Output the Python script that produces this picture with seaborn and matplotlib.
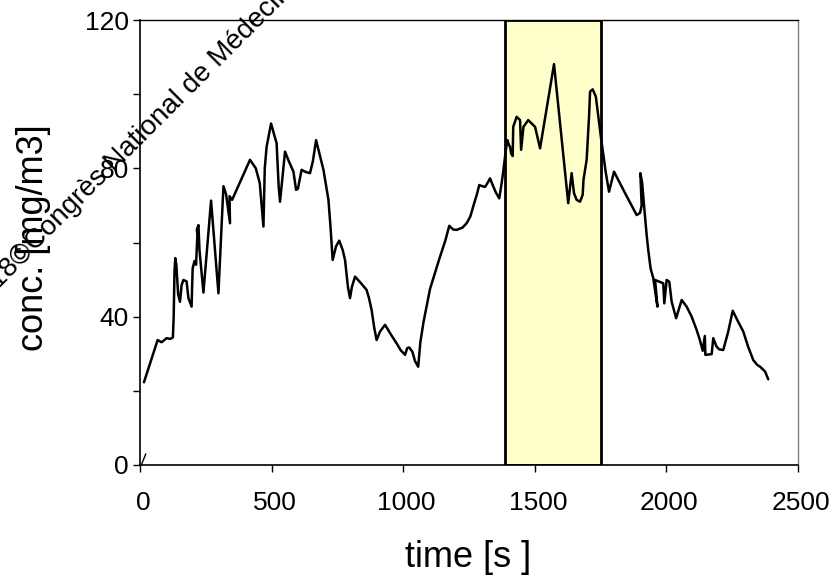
import matplotlib
matplotlib.use("Agg")
import matplotlib.pyplot as plt
import seaborn as sns
import pandas as pd
from matplotlib.ticker import FixedLocator, FixedFormatter
import matplotlib.transforms as mtransforms

# ---- data ----
time_s = [15, 67, 82, 101, 115, 125, 128, 131, 134, 138, 145, 152, 158, 165, 177, 184, 196,
          200, 207, 213, 218, 216, 222, 226, 241, 270, 298, 317, 327, 342, 340, 350,
          418, 440, 455, 469, 474, 481, 498, 510, 519, 527, 532,
          551, 565, 583, 593, 600, 614, 630, 646, 657, 669, 685, 697, 716, 724, 732,
          745, 757, 770, 779, 790, 798, 805, 817, 840, 861, 870, 880, 890, 899, 912,
          931, 955, 975, 990, 1007, 1015, 1023, 1035, 1045, 1057, 1065, 1077, 1102,
          1140, 1160, 1175, 1190, 1203, 1225, 1241, 1255, 1266, 1280, 1289, 1300,
          1311, 1320, 1330, 1340, 1352, 1365, 1374, 1381, 1390, 1396, 1401, 1406,
          1410, 1416, 1418, 1431, 1444, 1448, 1457, 1475, 1501, 1520, 1573, 1627,
          1640, 1649, 1659, 1672, 1682, 1685, 1697, 1706, 1710, 1720, 1732, 1751,
          1770, 1782, 1801, 1827, 1843, 1887, 1900, 1906, 1901, 1908, 1915, 1925,
          1931, 1940, 1950, 1966, 1957, 1988, 1992, 2001, 2011, 2020, 2037, 2058,
          2077, 2096, 2115, 2128, 2138, 2146, 2148, 2160, 2172, 2178, 2190, 2200,
          2216, 2235, 2252, 2270, 2292, 2310, 2330, 2345, 2356, 2375, 2387]
conc = [22.3, 33.7, 33.1, 34.2, 34.0, 34.4, 40.0, 52.0, 55.8, 54.0, 46.0, 44.0, 48.5, 49.9, 49.5, 45.0, 42.7,
        53.0, 55.0, 54.0, 62.0, 63.5, 64.7, 58.0, 46.5, 71.3, 46.3, 75.2, 73.0, 65.2, 72.5, 71.5,
        82.3, 80.0, 76.0, 64.3, 80.0, 85.8, 92.1, 89.0, 86.8, 75.0, 71.0,
        84.5, 82.0, 79.1, 74.2, 74.5, 79.6, 79.0, 78.7, 82.0, 87.6, 83.0, 79.6, 71.5, 64.0, 55.3,
        59.0, 60.5, 58.0, 55.3, 48.0, 45.0, 48.0, 50.8, 49.0, 47.2, 45.0, 41.8, 37.0, 33.7, 36.0,
        37.8, 35.0, 32.8, 31.0, 29.7, 31.5, 31.7, 30.5, 28.0, 26.5, 33.0, 38.5, 47.5,
        56.2, 60.5, 64.5, 63.5, 63.4, 64.0, 65.2, 67.0, 69.7, 73.0, 75.5, 75.2,
        75.0, 76.0, 77.3, 75.5, 73.5, 71.9, 76.0, 79.6, 85.0, 87.6, 86.4, 85.8,
        84.0, 83.3, 91.2, 93.9, 93.0, 85.0, 91.2, 93.0, 91.2, 85.4, 108.1, 70.6,
        78.7, 73.3, 71.5, 71.0, 72.9, 76.9, 82.3, 93.9, 100.7, 101.3, 99.3, 88.5,
        78.7, 73.7, 79.1, 75.5, 73.3, 67.4, 68.0, 70.0, 78.7, 76.0, 70.0, 62.0,
        58.0, 53.0, 50.4, 42.7, 49.9, 49.0, 43.6, 49.9, 49.4, 44.0, 39.6, 44.5,
        42.7, 40.0, 36.4, 33.5, 30.8, 34.8, 29.7, 29.8, 29.9, 34.2, 32.0, 31.2,
        31.0, 36.0, 41.6, 39.0, 36.0, 32.0, 28.3, 27.0, 26.5, 25.2, 23.1]
stub_time = [5, 22]
stub_conc = [0.0, 3.0]
highlight_start = 1385
highlight_end = 1752
x_ticks = [0, 500, 1000, 1500, 2000, 2500]
x_labels = ["0", "500", "1000", "1500", "2000", "2500"]
y_ticks = [0, 20, 40, 60, 80, 100, 120]
y_labels = ["0", "", "40", "", "80", "", "120"]

sns.set_theme(style="white")
plt.rcParams['font.family'] = ['Liberation Sans', 'DejaVu Sans']
plt.rcParams['text.color'] = 'black'
plt.rcParams['axes.labelcolor'] = 'black'
plt.rcParams['xtick.color'] = 'black'
plt.rcParams['ytick.color'] = 'black'

fig = plt.figure(figsize=(8.36, 5.76), dpi=100)
ax = fig.add_axes([140/836, 111/576, 658/836, 445/576])

ax.axvspan(highlight_start, highlight_end, facecolor='#FFFFCC', edgecolor='black',
           linewidth=2.0, zorder=1)

df = pd.DataFrame({"time": time_s, "conc": conc})
sns.lineplot(data=df, x="time", y="conc", sort=False, estimator=None,
             color="black", linewidth=1.8, ax=ax, zorder=3)
df2 = pd.DataFrame({"time": stub_time, "conc": stub_conc})
sns.lineplot(data=df2, x="time", y="conc", sort=False, estimator=None,
             color="black", linewidth=1.0, ax=ax, zorder=3)

ax.set_xlim(0, 2500)
ax.set_ylim(0, 120)
ax.xaxis.set_major_locator(FixedLocator(x_ticks))
ax.xaxis.set_major_formatter(FixedFormatter(x_labels))
ax.yaxis.set_major_locator(FixedLocator(y_ticks))
ax.yaxis.set_major_formatter(FixedFormatter(y_labels))
ax.tick_params(axis='both', which='major', direction='out', length=5, width=1,
               color='black', labelcolor='black', labelsize=19,
               bottom=True, left=True, top=False, right=False)
ax.tick_params(axis='x', pad=14)
ax.tick_params(axis='y', pad=3)
# reference x tick labels sit slightly right of their ticks
offset = mtransforms.ScaledTranslation(3/100, 0, fig.dpi_scale_trans)
for lbl in ax.get_xticklabels():
    lbl.set_transform(lbl.get_transform() + offset)

ax.set_xlabel("")
ax.set_ylabel("")
for s in ['left', 'bottom', 'top']:
    ax.spines[s].set_color('black')
    ax.spines[s].set_linewidth(1.2)
ax.spines['top'].set_linewidth(1.0)
ax.spines['right'].set_color('#808080')
ax.spines['right'].set_linewidth(1.0)

fig.text(468/836, (576-567)/576, "time [s ]", ha='center', va='baseline', fontsize=26, color='black')
fig.text(43/836, (576-238)/576, "conc. [mg/m3]", ha='center', va='baseline',
         rotation=90, rotation_mode='anchor', fontsize=26, color='black')

# watermark text
fig.text(35/836, (576-252)/576, "Congrès National de Médecine du Travail",
         ha='left', va='baseline', rotation=45, rotation_mode='anchor', fontsize=20, color='black')
fig.text(35/836, (576-252)/576, "2018©", ha='right', va='baseline', rotation=45,
         rotation_mode='anchor', fontsize=20, color='black')

fig.savefig("out.png", dpi=100, facecolor='white')
